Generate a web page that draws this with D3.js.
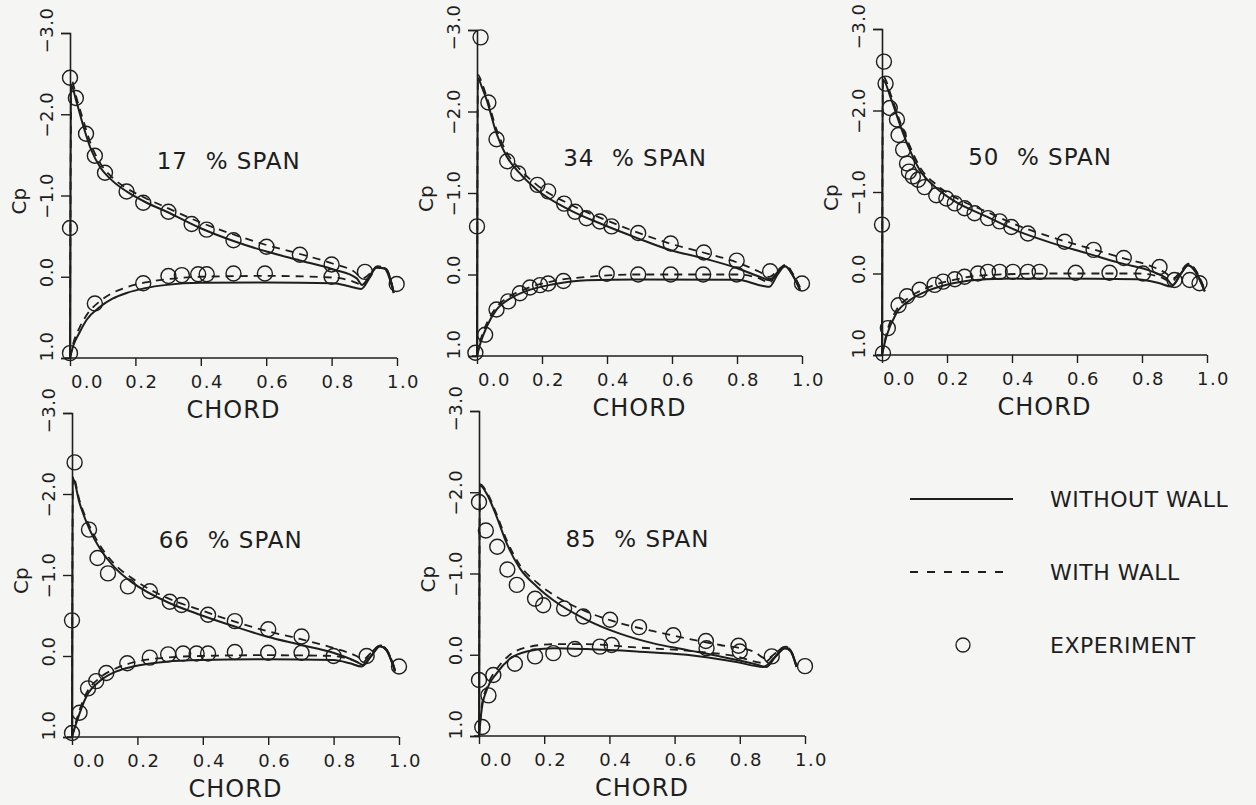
<!DOCTYPE html>
<html>
<head>
<meta charset="utf-8">
<script src="https://cdn.jsdelivr.net/npm/d3@7"></script>
<style>
  html, body { margin: 0; padding: 0; background: #f5f5f3; }
  svg { display: block; }
  text { font-family: "DejaVu Sans", "Liberation Sans", sans-serif; fill: #1e1e1e; }
</style>
</head>
<body>
<svg id="chart" width="1256" height="805"></svg>
<script>
// ---------------- DATA ----------------
const spans = [17, 34, 50, 66, 85];
const chordTicks = [0, 0.2, 0.4, 0.6, 0.8, 1.0];
const cpTicks = [-3, -2, -1, 0, 1];
const legendLabels = ["WITHOUT WALL", "WITH WALL", "EXPERIMENT"];

// 17 % span
const noWallUpper17 = [[0,1.0],[0.003,-2.36],[0.02,-2.15],[0.041,-1.85],[0.065,-1.56],[0.092,-1.35],[0.13,-1.18],[0.173,-1.05],[0.23,-0.92],[0.296,-0.80],[0.398,-0.60],[0.5,-0.44],[0.601,-0.31],[0.703,-0.20],[0.805,-0.09],[0.877,0.02],[0.893,0.1],[0.915,0.0],[0.938,-0.12],[0.962,-0.1],[0.99,0.2]];
const noWallLower17 = [[0,1.0],[0.01,0.85],[0.03,0.68],[0.051,0.53],[0.092,0.37],[0.13,0.27],[0.173,0.2],[0.23,0.14],[0.296,0.10],[0.398,0.075],[0.6,0.07],[0.805,0.08],[0.856,0.12],[0.89,0.15],[0.915,0.02],[0.935,-0.11],[0.965,-0.1],[0.99,0.2]];
const wallUpper17 = [[0,1.0],[0.004,-2.42],[0.02,-2.2],[0.041,-1.92],[0.065,-1.62],[0.092,-1.4],[0.13,-1.22],[0.173,-1.09],[0.23,-0.97],[0.296,-0.85],[0.398,-0.67],[0.5,-0.52],[0.601,-0.39],[0.703,-0.28],[0.805,-0.16],[0.87,-0.06],[0.895,0.02],[0.92,-0.05],[0.94,-0.13],[0.965,-0.1],[0.99,0.18]];
const wallLower17 = [[0,1.0],[0.01,0.82],[0.03,0.62],[0.051,0.47],[0.092,0.3],[0.13,0.2],[0.173,0.13],[0.23,0.07],[0.296,0.03],[0.398,0.0],[0.6,-0.01],[0.805,0.01],[0.86,0.05],[0.895,0.1],[0.92,-0.03],[0.94,-0.12],[0.965,-0.1],[0.99,0.18]];
const exp17 = [[0.0,-2.45],[0.018,-2.2],[0.049,-1.76],[0.076,-1.49],[0.107,-1.28],[0.173,-1.05],[0.224,-0.91],[0.301,-0.80],[0.372,-0.65],[0.418,-0.58],[0.5,-0.45],[0.601,-0.37],[0.703,-0.27],[0.80,-0.15],[0.902,-0.06],[0.999,0.09],[0.0,-0.6],[0.0,0.94],[0.076,0.33],[0.224,0.08],[0.301,-0.01],[0.342,-0.02],[0.392,-0.03],[0.418,-0.03],[0.5,-0.04],[0.596,-0.04],[0.80,0.0]];

// 34 % span
const noWallUpper34 = [[0,1.0],[0.002,-2.41],[0.015,-2.3],[0.03,-2.14],[0.06,-1.73],[0.091,-1.45],[0.132,-1.24],[0.184,-1.04],[0.286,-0.79],[0.389,-0.61],[0.491,-0.45],[0.594,-0.30],[0.696,-0.20],[0.799,-0.08],[0.881,0.045],[0.9,0.07],[0.925,-0.03],[0.948,-0.1],[0.97,0.0],[0.994,0.19]];
const noWallLower34 = [[0,1.0],[0.01,0.85],[0.03,0.64],[0.06,0.43],[0.1,0.3],[0.153,0.2],[0.235,0.12],[0.337,0.07],[0.49,0.06],[0.8,0.065],[0.88,0.14],[0.9,0.15],[0.925,0.0],[0.948,-0.1],[0.97,0.0],[0.994,0.19]];
const wallUpper34 = [[0,1.0],[0.003,-2.45],[0.015,-2.35],[0.03,-2.18],[0.06,-1.78],[0.091,-1.5],[0.132,-1.29],[0.184,-1.1],[0.286,-0.86],[0.389,-0.68],[0.491,-0.52],[0.594,-0.38],[0.696,-0.27],[0.799,-0.15],[0.87,-0.03],[0.9,0.03],[0.925,-0.05],[0.95,-0.12],[0.97,-0.02],[0.994,0.16]];
const wallLower34 = [[0,1.0],[0.01,0.82],[0.03,0.6],[0.06,0.4],[0.1,0.27],[0.153,0.17],[0.235,0.08],[0.337,0.03],[0.49,0.0],[0.8,0.0],[0.87,0.05],[0.9,0.1],[0.925,-0.04],[0.95,-0.12],[0.97,-0.02],[0.994,0.16]];
const exp34 = [[0.011,-2.91],[0.035,-2.11],[0.06,-1.66],[0.093,-1.39],[0.127,-1.24],[0.186,-1.10],[0.219,-1.02],[0.268,-0.87],[0.302,-0.77],[0.337,-0.69],[0.378,-0.65],[0.414,-0.59],[0.496,-0.51],[0.596,-0.38],[0.698,-0.27],[0.799,-0.17],[0.902,-0.04],[1.0,0.11],[0.0,-0.59],[-0.005,0.96],[0.025,0.74],[0.06,0.43],[0.096,0.33],[0.132,0.23],[0.163,0.16],[0.194,0.13],[0.219,0.11],[0.266,0.08],[0.399,-0.01],[0.496,0.0],[0.596,0.0],[0.696,0.0],[0.799,0.0]];

// 50 % span
const noWallUpper50 = [[0,1.0],[0.002,-2.38],[0.029,-2.13],[0.054,-1.84],[0.085,-1.52],[0.116,-1.27],[0.167,-1.05],[0.218,-0.9],[0.321,-0.70],[0.424,-0.51],[0.526,-0.37],[0.629,-0.25],[0.731,-0.13],[0.834,-0.02],[0.875,0.06],[0.895,0.14],[0.92,0.0],[0.942,-0.1],[0.965,-0.02],[0.993,0.22]];
const noWallLower50 = [[0,1.0],[0.013,0.78],[0.044,0.49],[0.085,0.33],[0.136,0.22],[0.218,0.12],[0.321,0.07],[0.526,0.06],[0.783,0.07],[0.854,0.12],[0.89,0.16],[0.92,0.0],[0.942,-0.1],[0.965,-0.02],[0.993,0.22]];
const wallUpper50 = [[0,1.0],[0.003,-2.42],[0.029,-2.17],[0.054,-1.88],[0.085,-1.57],[0.116,-1.31],[0.167,-1.09],[0.218,-0.95],[0.321,-0.76],[0.424,-0.58],[0.526,-0.44],[0.629,-0.32],[0.731,-0.2],[0.834,-0.08],[0.875,0.0],[0.895,0.06],[0.92,-0.03],[0.944,-0.12],[0.965,-0.04],[0.993,0.2]];
const wallLower50 = [[0,1.0],[0.013,0.75],[0.044,0.45],[0.085,0.29],[0.136,0.18],[0.218,0.08],[0.321,0.02],[0.526,0.0],[0.783,0.0],[0.854,0.04],[0.89,0.1],[0.92,-0.03],[0.944,-0.12],[0.965,-0.04],[0.993,0.2]];
const exp50 = [[0.006,-2.60],[0.011,-2.33],[0.024,-2.03],[0.046,-1.89],[0.051,-1.70],[0.065,-1.52],[0.077,-1.35],[0.083,-1.25],[0.095,-1.19],[0.111,-1.15],[0.131,-1.06],[0.167,-0.96],[0.198,-0.92],[0.224,-0.86],[0.254,-0.80],[0.285,-0.74],[0.326,-0.68],[0.362,-0.64],[0.398,-0.57],[0.449,-0.49],[0.562,-0.39],[0.651,-0.29],[0.744,-0.19],[0.854,-0.08],[0.947,0.08],[0.977,0.12],[0.0,-0.60],[0.003,0.98],[0.018,0.67],[0.051,0.39],[0.077,0.28],[0.116,0.20],[0.162,0.14],[0.188,0.10],[0.224,0.07],[0.254,0.04],[0.295,0.0],[0.326,-0.02],[0.362,-0.02],[0.403,-0.02],[0.449,-0.02],[0.485,-0.02],[0.596,-0.01],[0.70,-0.01],[0.803,0.0],[0.90,0.08]];

// 66 % span
const noWallUpper66 = [[0,1.0],[0.002,-2.2],[0.023,-1.89],[0.054,-1.56],[0.085,-1.33],[0.136,-1.07],[0.187,-0.9],[0.289,-0.67],[0.391,-0.51],[0.493,-0.37],[0.595,-0.24],[0.697,-0.14],[0.799,-0.04],[0.87,0.07],[0.89,0.11],[0.915,0.0],[0.942,-0.12],[0.96,-0.08],[0.988,0.19]];
const noWallLower66 = [[0,1.0],[0.013,0.83],[0.044,0.5],[0.085,0.31],[0.136,0.19],[0.187,0.13],[0.289,0.07],[0.391,0.05],[0.595,0.04],[0.799,0.05],[0.85,0.09],[0.886,0.13],[0.915,0.0],[0.942,-0.12],[0.96,-0.08],[0.988,0.19]];
const wallUpper66 = [[0,1.0],[0.003,-2.22],[0.023,-1.92],[0.054,-1.6],[0.085,-1.37],[0.136,-1.11],[0.187,-0.95],[0.289,-0.72],[0.391,-0.57],[0.493,-0.43],[0.595,-0.31],[0.697,-0.21],[0.799,-0.1],[0.87,0.0],[0.89,0.04],[0.915,-0.04],[0.944,-0.13],[0.962,-0.08],[0.988,0.17]];
const wallLower66 = [[0,1.0],[0.013,0.8],[0.044,0.46],[0.085,0.27],[0.136,0.15],[0.187,0.08],[0.289,0.02],[0.391,0.0],[0.595,-0.01],[0.799,0.0],[0.85,0.04],[0.886,0.09],[0.915,-0.04],[0.944,-0.13],[0.962,-0.08],[0.988,0.17]];
const exp66 = [[0.008,-2.39],[0.052,-1.56],[0.078,-1.21],[0.11,-1.02],[0.171,-0.86],[0.238,-0.80],[0.299,-0.67],[0.335,-0.63],[0.416,-0.51],[0.498,-0.43],[0.60,-0.33],[0.702,-0.24],[0.901,0.0],[1.0,0.13],[0.0,-0.44],[0.0,0.95],[0.023,0.70],[0.049,0.40],[0.074,0.31],[0.105,0.21],[0.169,0.09],[0.238,0.02],[0.294,-0.02],[0.34,-0.03],[0.381,-0.03],[0.416,-0.03],[0.498,-0.05],[0.60,-0.04],[0.702,-0.04],[0.80,0.0]];

// 85 % span
const noWallUpper85 = [[0,1.0],[0.002,-2.09],[0.024,-1.98],[0.054,-1.70],[0.085,-1.37],[0.126,-1.06],[0.177,-0.84],[0.228,-0.67],[0.33,-0.43],[0.432,-0.26],[0.535,-0.14],[0.637,-0.06],[0.739,0.02],[0.842,0.11],[0.882,0.15],[0.91,0.02],[0.939,-0.08],[0.955,-0.05],[0.974,0.15]];
const noWallLower85 = [[0,1.0],[0.008,0.68],[0.024,0.43],[0.054,0.23],[0.095,0.05],[0.146,-0.04],[0.228,-0.08],[0.33,-0.07],[0.484,-0.04],[0.637,0.0],[0.79,0.09],[0.872,0.15],[0.91,0.02],[0.939,-0.08],[0.955,-0.05],[0.974,0.15]];
const wallUpper85 = [[0,1.0],[0.003,-2.1],[0.024,-2.0],[0.054,-1.73],[0.085,-1.41],[0.126,-1.1],[0.177,-0.89],[0.228,-0.74],[0.33,-0.53],[0.432,-0.39],[0.535,-0.29],[0.637,-0.2],[0.739,-0.12],[0.842,-0.04],[0.882,0.05],[0.91,-0.02],[0.94,-0.1],[0.955,-0.06],[0.974,0.13]];
const wallLower85 = [[0,1.0],[0.008,0.64],[0.024,0.4],[0.054,0.18],[0.095,0.0],[0.146,-0.09],[0.228,-0.13],[0.33,-0.13],[0.484,-0.09],[0.637,-0.05],[0.79,0.02],[0.872,0.1],[0.91,-0.02],[0.94,-0.1],[0.955,-0.06],[0.974,0.13]];
const exp85 = [[0.0,-1.88],[0.021,-1.53],[0.056,-1.33],[0.087,-1.05],[0.116,-0.86],[0.172,-0.69],[0.197,-0.61],[0.261,-0.57],[0.32,-0.47],[0.402,-0.43],[0.491,-0.34],[0.596,-0.24],[0.696,-0.17],[0.796,-0.11],[0.898,0.02],[1.0,0.14],[0.0,0.31],[0.01,0.89],[0.029,0.50],[0.044,0.25],[0.11,0.11],[0.172,0.02],[0.228,-0.02],[0.294,-0.07],[0.371,-0.10],[0.407,-0.12],[0.698,-0.08],[0.80,-0.04]];

// ---------------- LAYOUT (pixels) ----------------
const frames = [
  {x0: 70,  x1: 397, yTop: 33,  yBot: 358},
  {x0: 477, x1: 802, yTop: 30,  yBot: 356},
  {x0: 882, x1: 1207, yTop: 29, yBot: 355},
  {x0: 72,  x1: 399, yTop: 413, yBot: 737},
  {x0: 479, x1: 805, yTop: 411, yBot: 736}
];

const panels = [
  {span: spans[0], noWall: [noWallUpper17, noWallLower17], wall: [wallUpper17, wallLower17], exp: exp17},
  {span: spans[1], noWall: [noWallUpper34, noWallLower34], wall: [wallUpper34, wallLower34], exp: exp34},
  {span: spans[2], noWall: [noWallUpper50, noWallLower50], wall: [wallUpper50, wallLower50], exp: exp50},
  {span: spans[3], noWall: [noWallUpper66, noWallLower66], wall: [wallUpper66, wallLower66], exp: exp66},
  {span: spans[4], noWall: [noWallUpper85, noWallLower85], wall: [wallUpper85, wallLower85], exp: exp85}
];

// ---------------- DRAW ----------------
const INK = "#1e1e1e";
const svg = d3.select("#chart");
svg.append("rect").attr("width", 1256).attr("height", 805).attr("fill", "#f5f5f3");

const fmtCp = v => (v < 0 ? "\u2212" : "") + Math.abs(v).toFixed(1);
const yNudge = {"-3": -3, "0": -5, "1": -12};

panels.forEach((p, i) => {
  const f = frames[i];
  const x = d3.scaleLinear().domain([0, 1]).range([f.x0, f.x1]);
  const y = d3.scaleLinear().domain([-3, 1]).range([f.yTop, f.yBot]);
  const g = svg.append("g");

  // y axis
  const ya = g.append("g").attr("transform", `translate(${f.x0},0)`)
    .call(d3.axisLeft(y).tickValues(cpTicks).tickSize(9).tickFormat(fmtCp));
  ya.attr("font-size", 18).attr("font-family", "DejaVu Sans");
  ya.select(".domain").attr("stroke", INK).attr("stroke-width", 1.6);
  ya.selectAll(".tick line").attr("stroke", INK).attr("stroke-width", 1.4);
  ya.selectAll(".tick text")
    .attr("x", null).attr("dy", null)
    .attr("text-anchor", "middle")
    .attr("transform", d => `translate(-17,${yNudge[String(d)] || 0}) rotate(-90)`)
    .attr("letter-spacing", 0.5).attr("fill", INK);

  // x axis
  const xa = g.append("g").attr("transform", `translate(0,${f.yBot})`)
    .call(d3.axisBottom(x).tickValues(chordTicks).tickSizeInner(8).tickSizeOuter(0)
      .tickFormat(d3.format(".1f")));
  xa.attr("font-size", 18).attr("font-family", "DejaVu Sans");
  xa.select(".domain").attr("stroke", INK).attr("stroke-width", 1.6)
    .attr("d", `M${f.x0 - 5},0H${f.x1}`);
  xa.selectAll(".tick line").attr("stroke", INK).attr("stroke-width", 1.4);
  xa.selectAll(".tick text")
    .attr("y", 30).attr("dy", null)
    .attr("dx", d => d === 0 ? 17 : 6)
    .attr("letter-spacing", 1.5).attr("fill", INK);

  // axis titles
  g.append("text")
    .attr("x", (f.x0 + f.x1) / 2).attr("y", f.yBot + 60)
    .attr("text-anchor", "middle").attr("font-size", 24).attr("letter-spacing", 1)
    .text("CHORD");
  g.append("text")
    .attr("transform", `translate(${f.x0 - 44},${y(-0.93)}) rotate(-90)`)
    .attr("text-anchor", "middle").attr("font-size", 20)
    .text("Cp");

  // span label
  const t = g.append("text").attr("y", y(-1.33)).attr("font-size", 23).attr("letter-spacing", 1);
  t.append("tspan").attr("x", x(0.265)).text(p.span);
  t.append("tspan").attr("x", x(0.415)).text("% SPAN");

  const line = d3.line().x(d => x(d[0])).y(d => y(d[1])).curve(d3.curveMonotoneX);

  // without wall (solid)
  g.selectAll(".solid").data(p.noWall).join("path")
    .attr("class", "solid").attr("d", line)
    .attr("fill", "none").attr("stroke", INK).attr("stroke-width", 2)
    .attr("stroke-linejoin", "round");

  // with wall (dashed)
  g.selectAll(".dashed").data(p.wall).join("path")
    .attr("class", "dashed").attr("d", line)
    .attr("fill", "none").attr("stroke", INK).attr("stroke-width", 1.8)
    .attr("stroke-dasharray", "8,6");

  // experiment (circles)
  g.selectAll(".exp").data(p.exp).join("circle")
    .attr("class", "exp")
    .attr("cx", d => x(d[0])).attr("cy", d => y(d[1])).attr("r", 7.5)
    .attr("fill", "none").attr("stroke", INK).attr("stroke-width", 1.4);
});

// ---------------- LEGEND ----------------
const lg = svg.append("g");
const legendRows = [
  {label: legendLabels[0], kind: "solid", cy: 499},
  {label: legendLabels[1], kind: "dashed", cy: 572},
  {label: legendLabels[2], kind: "circle", cy: 645}
];
legendRows.forEach(r => {
  if (r.kind === "solid") {
    lg.append("line").attr("x1", 910).attr("x2", 1013).attr("y1", r.cy).attr("y2", r.cy)
      .attr("stroke", INK).attr("stroke-width", 2);
  } else if (r.kind === "dashed") {
    lg.append("line").attr("x1", 910).attr("x2", 1007).attr("y1", r.cy).attr("y2", r.cy)
      .attr("stroke", INK).attr("stroke-width", 1.8).attr("stroke-dasharray", "8,9");
  } else {
    lg.append("circle").attr("cx", 963).attr("cy", r.cy).attr("r", 7)
      .attr("fill", "none").attr("stroke", INK).attr("stroke-width", 1.3);
  }
  lg.append("text").attr("x", 1050).attr("y", r.cy + 8)
    .attr("font-size", 22).attr("letter-spacing", 0.5).text(r.label);
});
</script>
</body>
</html>
